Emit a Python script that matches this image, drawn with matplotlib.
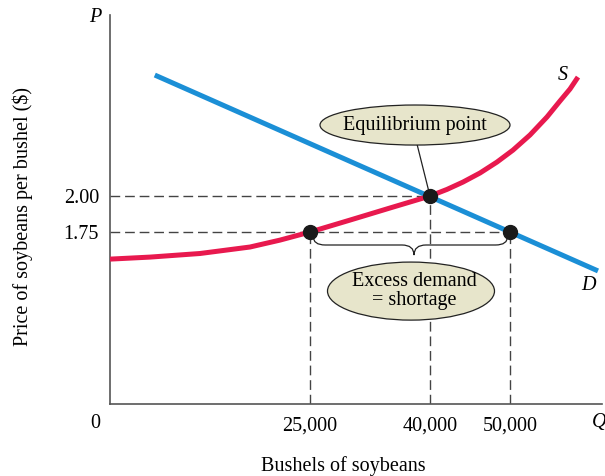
"""Soybean market: supply and demand with a shortage at a price below equilibrium."""

import matplotlib
matplotlib.use("Agg")
import matplotlib.pyplot as plt
from matplotlib.patches import Ellipse, PathPatch
from matplotlib.path import Path

# --- data --------------------------------------------------------------
supply_q = [0, 5000, 11250, 17500, 21250, 25000, 30000, 35000, 40000, 42125, 44125,
            46250, 48375, 50375, 52500, 54625, 56250, 57500, 58500]
supply_p = [1.562, 1.576, 1.601, 1.646, 1.694, 1.75, 1.833, 1.917, 2.00, 2.046, 2.097,
            2.16, 2.236, 2.319, 2.424, 2.549, 2.66, 2.743, 2.826]

demand_q = [5600, 61000]
demand_p = [2.84, 1.48]

equilibrium_q = 40000
equilibrium_p = 2.00
low_price = 1.75
qty_supplied = 25000
qty_demanded = 50000

x_ticks = [25000, 40000, 50000]
x_tick_labels = ["25,000", "40,000", "50,000"]
y_ticks = [1.75, 2.00]
y_tick_labels = ["1.75", "2.00"]

RED = "#e8194e"
BLUE = "#1b8fd6"
BEIGE = "#e7e5cb"
DASH = "#444444"
AXIS = "#555555"

plt.rcParams["font.family"] = ["Liberation Serif", "DejaVu Serif"]
FS = 14.5

fig = plt.figure(figsize=(6.05, 4.76), dpi=100)
ax = fig.add_axes([110 / 605, 1 - 404 / 476, 492 / 605, 389 / 476])
ax.set_xlim(0, 61500)
ax.set_ylim(0.556, 3.257)

for side in ("top", "right"):
    ax.spines[side].set_visible(False)
for side in ("left", "bottom"):
    ax.spines[side].set_color(AXIS)
    ax.spines[side].set_linewidth(1.2)

ax.set_xticks(x_ticks, x_tick_labels, fontsize=FS)
ax.set_yticks(y_ticks, y_tick_labels, fontsize=FS)
ax.tick_params(length=0)
ax.tick_params(axis="x", pad=9)
ax.tick_params(axis="y", pad=8)

# dashed guide lines
dash_kw = dict(color=DASH, lw=1.0, dashes=(7, 3.5), zorder=1)
ax.plot([0, equilibrium_q], [equilibrium_p, equilibrium_p], **dash_kw)
ax.plot([0, qty_demanded], [low_price, low_price], **dash_kw)
ax.plot([qty_supplied, qty_supplied], [0.556, low_price], **dash_kw)
ax.plot([equilibrium_q, equilibrium_q], [0.556, equilibrium_p], **dash_kw)
ax.plot([qty_demanded, qty_demanded], [0.556, low_price], **dash_kw)

# curves
ax.plot(demand_q, demand_p, color=BLUE, lw=3.6, solid_capstyle="butt", zorder=3)
ax.plot(supply_q, supply_p, color=RED, lw=3.6, solid_capstyle="butt",
        solid_joinstyle="round", zorder=3)

# points
ax.plot([qty_supplied, equilibrium_q, qty_demanded],
        [low_price, equilibrium_p, low_price],
        "o", color="#1a1a1a", ms=10, zorder=6)

ax.text(56625, 2.84, "S", fontsize=FS, style="italic", ha="center", va="center")
ax.text(59750, 1.38, "D", fontsize=FS, style="italic", ha="center", va="center")

# equilibrium callout
ax.plot([38400, equilibrium_q], [2.355, equilibrium_p], color="#222222", lw=0.9, zorder=4)
ax.add_patch(Ellipse((38125, 2.493), 23750, 0.278, facecolor=BEIGE,
                     edgecolor="#222222", lw=0.9, zorder=5))
ax.text(38125, 2.493, "Equilibrium point", fontsize=FS, ha="center", va="center", zorder=6)

# brace under the shortage
xl, xr, xm = qty_supplied + 400, qty_demanded - 300, 38000
yt, ym, yb = low_price - 0.03, 1.66, 1.59
curl = 1500
verts = [(xl, yt), (xl, ym), (xl + curl, ym), (xm - curl, ym), (xm, ym), (xm, yb),
         (xm, ym), (xm + curl, ym), (xr - curl, ym), (xr, ym), (xr, yt)]
codes = [Path.MOVETO, Path.CURVE3, Path.CURVE3, Path.LINETO, Path.CURVE3, Path.CURVE3,
         Path.CURVE3, Path.CURVE3, Path.LINETO, Path.CURVE3, Path.CURVE3]
ax.add_patch(PathPatch(Path(verts, codes), facecolor="none", edgecolor="#222222",
                       lw=0.9, zorder=4))

ax.add_patch(Ellipse((37625, 1.340), 20875, 0.403, facecolor=BEIGE,
                     edgecolor="#222222", lw=0.9, zorder=5))
ax.text(38000, 1.340, "Excess demand\n= shortage", fontsize=FS, ha="center",
        va="center", linespacing=1.05, zorder=6)

# axis letters and titles
fig.text(95 / 605, 1 - 18 / 476, "P", fontsize=FS, style="italic", ha="center", va="center")
fig.text(95 / 605, 1 - 423 / 476, "0", fontsize=FS, ha="center", va="center")
fig.text(599 / 605, 1 - 423 / 476, "Q", fontsize=FS, style="italic", ha="center", va="center")
fig.text(343 / 605, 1 - 466 / 476, "Bushels of soybeans", fontsize=FS, ha="center", va="center")
fig.text(23 / 605, 1 - 217 / 476, "Price of soybeans per bushel ($)", fontsize=FS,
         rotation=90, ha="center", va="center")

fig.savefig("out.png", dpi=100)
